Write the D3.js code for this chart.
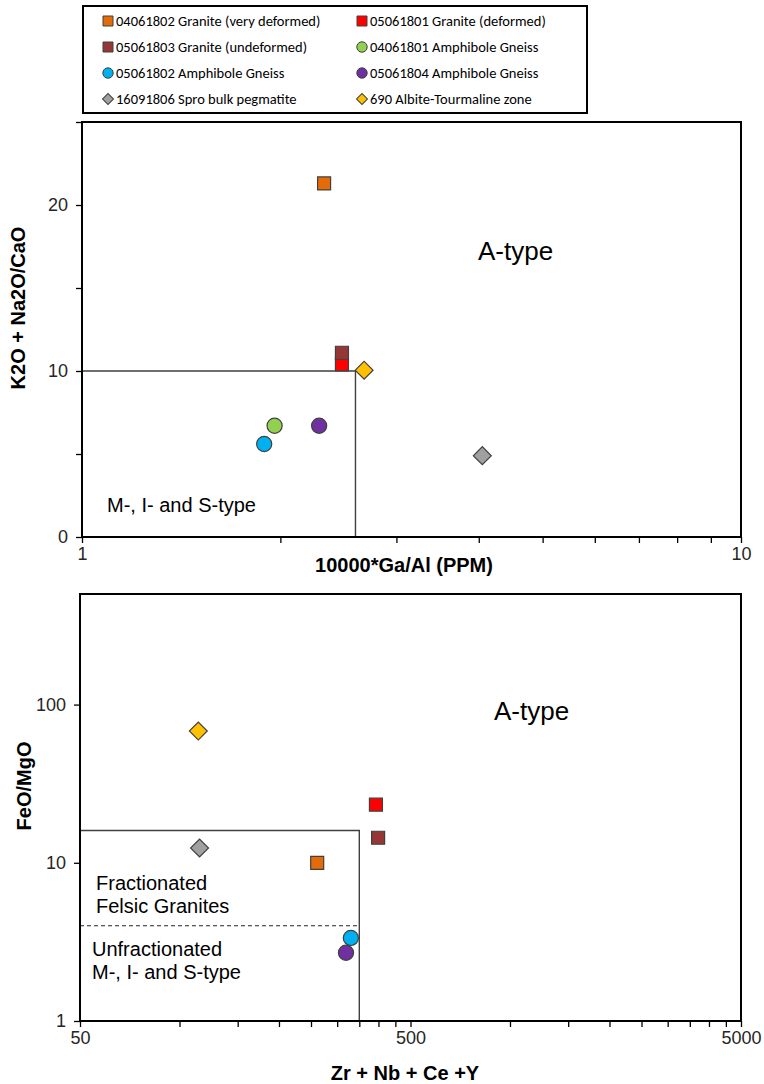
<!DOCTYPE html>
<html>
<head>
<meta charset="utf-8">
<script src="https://cdn.jsdelivr.net/npm/d3@7"></script>
<style>
  body { margin: 0; background: #fff; }
  svg { display: block; font-family: "Liberation Sans", Arial, sans-serif; }
  .tick text { fill: #262626; }
</style>
</head>
<body>
<div id="chart"></div>
<script>
// samples, in legend order
const sampleNames = [
  "04061802 Granite (very deformed)",
  "05061801 Granite (deformed)",
  "05061803 Granite (undeformed)",
  "04061801 Amphibole Gneiss",
  "05061802 Amphibole Gneiss",
  "05061804 Amphibole Gneiss",
  "16091806 Spro bulk pegmatite",
  "690 Albite-Tourmaline zone"
];
const sampleColors = ["#E36C09", "#FF0000", "#953735", "#92D050", "#00B0F0", "#7030A0", "#A0A0A0", "#FFC000"];
const sampleShapes = ["square", "square", "square", "circle", "circle", "circle", "diamond", "diamond"];

// top panel: 10000*Ga/Al vs K2O + Na2O/CaO
const gaAl = [2.33, 2.48, 2.48, 1.96, 1.89, 2.29, 4.05, 2.68];
const alkaliCaO = [21.3, 10.4, 11.1, 6.7, 5.6, 6.7, 4.9, 10.05];

// bottom panel: Zr + Nb + Ce + Y vs FeO/MgO (green sample not plotted)
const zrNbCeY = [261, 393, 399, null, 330, 319, 115, 114];
const feoMgO = [10.0, 23.3, 14.4, null, 3.35, 2.7, 12.4, 68];

// axis ticks
const topXTicks = [1, 2, 3, 4, 5, 6, 7, 8, 9, 10];
const topXLabels = [1, 10];
const topYTicks = [0, 5, 10, 15, 20, 25];
const topYLabels = [0, 10, 20];
const botXTicks = [50, 100, 150, 200, 250, 300, 350, 400, 450, 500,
  1000, 1500, 2000, 2500, 3000, 3500, 4000, 4500, 5000];
const botXLabels = [50, 500, 5000];
const botYTicks = [1, 10, 100];

// field boundaries
const topBoundX = 2.6, topBoundY = 10;
const botBoundX = 350, botBoundY = 16, botDashY = 4;

const width = 764, height = 1084;
const svg = d3.select("#chart").append("svg")
  .attr("width", width)
  .attr("height", height);

function marker(shape) {
  if (shape === "circle") return d3.symbol(d3.symbolCircle, 180)();
  if (shape === "diamond") return d3.symbol(d3.symbolSquare, 160)();
  return d3.symbol(d3.symbolSquare, 169)();
}

// legend
const legend = svg.append("g").attr("class", "legend");
legend.append("rect")
  .attr("x", 83).attr("y", 6)
  .attr("width", 504).attr("height", 107)
  .attr("fill", "none").attr("stroke", "#000").attr("stroke-width", 2);

const legendItems = legend.selectAll(".item")
  .data(sampleNames)
  .enter()
  .append("g")
  .attr("class", "item")
  .attr("transform", (d, i) => `translate(${i % 2 === 0 ? 108 : 362}, ${21 + Math.floor(i / 2) * 26})`);

legendItems.append("path")
  .attr("d", (d, i) => {
    const s = sampleShapes[i];
    if (s === "circle") return d3.symbol(d3.symbolCircle, 85)();
    if (s === "diamond") return d3.symbol(d3.symbolSquare, 60)();
    return d3.symbol(d3.symbolSquare, 100)();
  })
  .attr("transform", (d, i) => sampleShapes[i] === "diamond" ? "rotate(45)" : null)
  .attr("fill", (d, i) => sampleColors[i])
  .attr("stroke", "#404040")
  .attr("stroke-width", 1);

legendItems.append("text")
  .attr("x", 8)
  .attr("dy", "0.35em")
  .attr("font-family", "Carlito, Lato, sans-serif")
  .attr("font-size", 14.5)
  .attr("fill", "#000")
  .text(d => d);

function drawPanel(p) {
  const g = svg.append("g");
  const x = d3.scaleLog().domain(p.xDomain).range([p.left, p.right]);
  const y = (p.yLog ? d3.scaleLog() : d3.scaleLinear()).domain(p.yDomain).range([p.bottom, p.top]);

  const xAxis = d3.axisBottom(x)
    .tickValues(p.xTicks)
    .tickFormat(d => p.xLabels.includes(d) ? d : "")
    .tickSize(6)
    .tickPadding(4);
  const yAxis = d3.axisLeft(y)
    .tickValues(p.yTicks)
    .tickFormat(d => p.yLabels.includes(d) ? d : "")
    .tickSize(6)
    .tickPadding(8);

  const gx = g.append("g")
    .attr("transform", `translate(0,${p.bottom})`)
    .call(xAxis);
  const gy = g.append("g")
    .attr("transform", `translate(${p.left},0)`)
    .call(yAxis);
  [gx, gy].forEach(a => {
    a.attr("font-family", null).attr("font-size", null);
    a.select(".domain").remove();
    a.selectAll(".tick line").attr("stroke", "#000").attr("stroke-width", 1.3);
    a.selectAll(".tick text").attr("font-size", 18);
  });

  // boundary lines
  g.append("path")
    .attr("d", `M${p.left},${y(p.boundY)}H${x(p.boundX)}V${p.bottom}`)
    .attr("fill", "none").attr("stroke", "#404040").attr("stroke-width", 1.4);
  if (p.dashY) {
    g.append("line")
      .attr("x1", p.left).attr("x2", x(p.boundX))
      .attr("y1", y(p.dashY)).attr("y2", y(p.dashY))
      .attr("stroke", "#262626").attr("stroke-width", 1.2)
      .attr("stroke-dasharray", "4,3");
  }

  // plot frame
  g.append("rect")
    .attr("x", p.left).attr("y", p.top)
    .attr("width", p.right - p.left).attr("height", p.bottom - p.top)
    .attr("fill", "none").attr("stroke", "#000").attr("stroke-width", 2);

  // field labels
  p.notes.forEach(n => {
    g.append("text")
      .attr("x", n.x).attr("y", n.y)
      .attr("font-size", n.size)
      .attr("fill", "#000")
      .text(n.text);
  });

  // axis titles
  g.append("text")
    .attr("x", p.xTitleX).attr("y", p.xTitleY)
    .attr("text-anchor", "middle")
    .attr("font-size", 20).attr("font-weight", "bold")
    .text(p.xTitle);
  g.append("text")
    .attr("transform", `translate(${p.yTitleX},${p.yTitleY}) rotate(-90)`)
    .attr("text-anchor", "middle")
    .attr("font-size", 20).attr("font-weight", "bold")
    .text(p.yTitle);

  // points
  const pts = sampleNames.map((name, i) => ({ name, i, xv: p.xs[i], yv: p.ys[i] }))
    .filter(d => d.xv != null && d.yv != null);
  g.append("g").selectAll("path")
    .data(pts)
    .enter()
    .append("path")
    .attr("d", d => marker(sampleShapes[d.i]))
    .attr("transform", d => `translate(${x(d.xv)},${y(d.yv)})` + (sampleShapes[d.i] === "diamond" ? " rotate(45)" : ""))
    .attr("fill", d => sampleColors[d.i])
    .attr("stroke", "#404040")
    .attr("stroke-width", 1.2);
}

drawPanel({
  left: 82, right: 741, top: 122, bottom: 537,
  xDomain: [1, 10], yDomain: [0, 25], yLog: false,
  xTicks: topXTicks, xLabels: topXLabels,
  yTicks: topYTicks, yLabels: topYLabels,
  xs: gaAl, ys: alkaliCaO,
  boundX: topBoundX, boundY: topBoundY,
  xTitle: "10000*Ga/Al  (PPM)", xTitleX: 404, xTitleY: 572,
  yTitle: "K2O + Na2O/CaO", yTitleX: 25, yTitleY: 308,
  notes: [
    { text: "A-type", x: 478, y: 260, size: 26 },
    { text: "M-, I- and S-type", x: 107, y: 512, size: 20 }
  ]
});

drawPanel({
  left: 80, right: 741, top: 594, bottom: 1021,
  xDomain: [50, 5000], yDomain: [1, 500], yLog: true,
  xTicks: botXTicks, xLabels: botXLabels,
  yTicks: botYTicks, yLabels: botYTicks,
  xs: zrNbCeY, ys: feoMgO,
  boundX: botBoundX, boundY: botBoundY, dashY: botDashY,
  xTitle: "Zr + Nb + Ce +Y", xTitleX: 405, xTitleY: 1080,
  yTitle: "FeO/MgO", yTitleX: 31, yTitleY: 786,
  notes: [
    { text: "A-type", x: 494, y: 720, size: 26 },
    { text: "Fractionated", x: 96, y: 890, size: 20 },
    { text: "Felsic Granites", x: 96, y: 913, size: 20 },
    { text: "Unfractionated", x: 92, y: 956, size: 20 },
    { text: "M-, I- and S-type", x: 92, y: 979, size: 20 }
  ]
});
</script>
</body>
</html>
